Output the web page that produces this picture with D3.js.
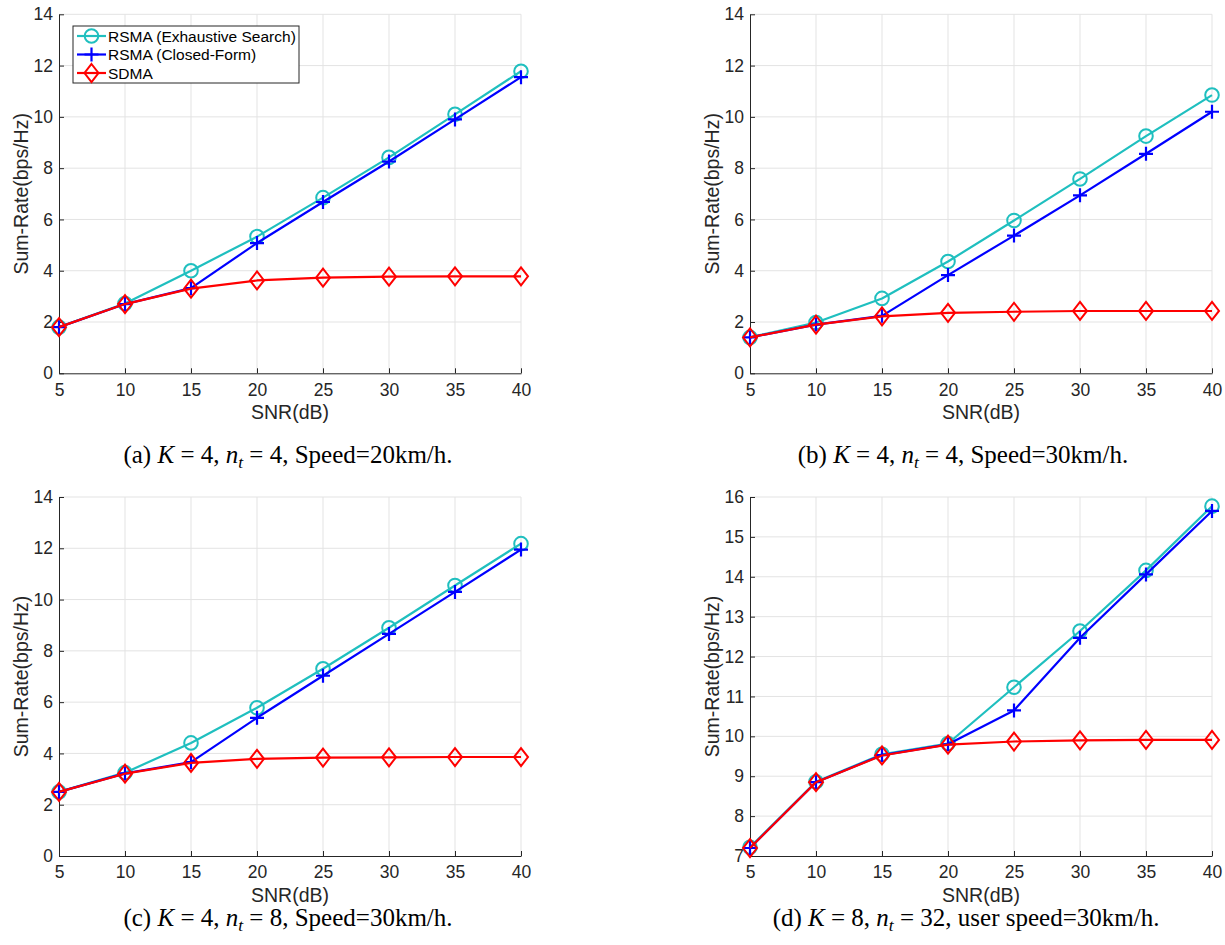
<!DOCTYPE html>
<html><head><meta charset="utf-8">
<script src="https://cdn.jsdelivr.net/npm/d3@7"></script>
<style>
html,body{margin:0;padding:0;background:#fff;}
svg{display:block;}
</style></head>
<body><svg id="chart" width="1225" height="945"></svg>
<script>
// ---- data ----
const snr = [5, 10, 15, 20, 25, 30, 35, 40];
const seriesNames = ["RSMA (Exhaustive Search)", "RSMA (Closed-Form)", "SDMA"];

const a_es   = [1.80, 2.72, 4.00, 5.33, 6.85, 8.42, 10.10, 11.78];
const a_cf   = [1.80, 2.70, 3.32, 5.08, 6.68, 8.26, 9.90, 11.55];
const a_sdma = [1.80, 2.70, 3.30, 3.62, 3.73, 3.77, 3.78, 3.78];

const b_es   = [1.40, 1.98, 2.92, 4.36, 5.96, 7.58, 9.25, 10.85];
const b_cf   = [1.40, 1.90, 2.24, 3.83, 5.37, 6.94, 8.56, 10.20];
const b_sdma = [1.40, 1.90, 2.22, 2.36, 2.40, 2.43, 2.43, 2.43];

const c_es   = [2.50, 3.25, 4.41, 5.78, 7.30, 8.90, 10.55, 12.18];
const c_cf   = [2.50, 3.22, 3.66, 5.39, 7.03, 8.66, 10.30, 11.95];
const c_sdma = [2.50, 3.21, 3.63, 3.79, 3.84, 3.85, 3.86, 3.86];

const d_es   = [7.22, 8.86, 9.55, 9.82, 11.23, 12.64, 14.16, 15.77];
const d_cf   = [7.20, 8.85, 9.53, 9.80, 10.65, 12.47, 14.06, 15.65];
const d_sdma = [7.20, 8.85, 9.52, 9.79, 9.87, 9.90, 9.91, 9.91];

const xTicks = [5, 10, 15, 20, 25, 30, 35, 40];
const yTicksA = [0, 2, 4, 6, 8, 10, 12, 14];
const yTicksD = [7, 8, 9, 10, 11, 12, 13, 14, 15, 16];

const captions = [
  {tag:"(a)", K:"4", n:"4", rest:", Speed=20km/h."},
  {tag:"(b)", K:"4", n:"4", rest:", Speed=30km/h."},
  {tag:"(c)", K:"4", n:"8", rest:", Speed=30km/h."},
  {tag:"(d)", K:"8", n:"32", rest:", user speed=30km/h."}
];

// ---- layout ----
const colors = ["#1fbfbf", "#0000ff", "#ff0000"];
const panels = [
  {left:59,  right:521,  top:14.3, bottom:373.3, yDom:[0,14], yTicks:yTicksA, data:[a_es,a_cf,a_sdma], cap:captions[0], capX:288, capY:463, legend:true},
  {left:750, right:1212, top:14.3, bottom:373.3, yDom:[0,14], yTicks:yTicksA, data:[b_es,b_cf,b_sdma], cap:captions[1], capX:963, capY:463},
  {left:59,  right:521,  top:497,  bottom:856,   yDom:[0,14], yTicks:yTicksA, data:[c_es,c_cf,c_sdma], cap:captions[2], capX:288, capY:926},
  {left:750, right:1212, top:497,  bottom:856,   yDom:[7,16], yTicks:yTicksD, data:[d_es,d_cf,d_sdma], cap:captions[3], capX:966, capY:926}
];

const svg = d3.select("#chart");
const axisColor = "#262626";
const sans = "'Liberation Sans', Arial, Helvetica, sans-serif";
const serif = "'Liberation Serif', 'Times New Roman', serif";
const tickFont = 17.5, labelFont = 19.5, legendFont = 15.5, capFont = 25;

function drawMarker(g, type, x, y, color) {
  if (type === 0) {
    g.append("circle").attr("cx", x).attr("cy", y).attr("r", 6.8)
      .attr("fill", "none").attr("stroke", color).attr("stroke-width", 2);
  } else if (type === 1) {
    const s = 7;
    g.append("path").attr("d", `M${x-s},${y}H${x+s}M${x},${y-s}V${y+s}`)
      .attr("stroke", color).attr("stroke-width", 2.2).attr("fill", "none");
  } else {
    const w = 7, h = 9;
    g.append("path").attr("d", `M${x},${y-h}L${x+w},${y}L${x},${y+h}L${x-w},${y}Z`)
      .attr("fill", "none").attr("stroke", color).attr("stroke-width", 2);
  }
}

panels.forEach(p => {
  const x = d3.scaleLinear().domain([5, 40]).range([p.left, p.right]);
  const y = d3.scaleLinear().domain(p.yDom).range([p.bottom, p.top]);
  const g = svg.append("g");

  // grid
  g.append("g").selectAll("line").data(xTicks.slice(1)).join("line")
    .attr("x1", d => x(d)).attr("x2", d => x(d))
    .attr("y1", p.top).attr("y2", p.bottom)
    .attr("stroke", "#e3e3e3").attr("stroke-width", 1);
  g.append("g").selectAll("line").data(p.yTicks.slice(1)).join("line")
    .attr("x1", p.left).attr("x2", p.right)
    .attr("y1", d => y(d)).attr("y2", d => y(d))
    .attr("stroke", "#e3e3e3").attr("stroke-width", 1);

  // axes
  const xAxis = d3.axisBottom(x).tickValues(xTicks).tickSizeInner(-5).tickSizeOuter(0).tickPadding(10);
  const yAxis = d3.axisLeft(y).tickValues(p.yTicks).tickSizeInner(-5).tickSizeOuter(0).tickPadding(6);
  const gx = g.append("g").attr("transform", `translate(0,${p.bottom})`).call(xAxis);
  const gy = g.append("g").attr("transform", `translate(${p.left},0)`).call(yAxis);
  [gx, gy].forEach(a => {
    a.select(".domain").attr("stroke", axisColor).attr("stroke-width", 1);
    a.selectAll(".tick line").attr("stroke", axisColor);
    a.selectAll(".tick text").attr("fill", axisColor).attr("font-size", tickFont).attr("font-family", sans);
  });

  // axis labels
  g.append("text").attr("x", (p.left + p.right) / 2).attr("y", p.bottom + 46)
    .attr("text-anchor", "middle").attr("font-family", sans).attr("font-size", labelFont)
    .attr("fill", axisColor).text("SNR(dB)");
  g.append("text").attr("transform", `translate(${p.left - 31},${(p.top + p.bottom) / 2}) rotate(-90)`)
    .attr("text-anchor", "middle").attr("font-family", sans).attr("font-size", labelFont)
    .attr("fill", axisColor).text("Sum-Rate(bps/Hz)");

  // series
  const line = d3.line().x((d, i) => x(snr[i])).y(d => y(d));
  p.data.forEach((vals, si) => {
    const sg = g.append("g");
    sg.append("path").datum(vals).attr("d", line).attr("fill", "none")
      .attr("stroke", colors[si]).attr("stroke-width", 2.2).attr("stroke-linejoin", "round");
    vals.forEach((v, i) => drawMarker(sg, si, x(snr[i]), y(v), colors[si]));
  });

  // caption (LaTeX-like spacing around "=")
  const c = p.cap;
  const sp = capFont * 0.25;
  const t = g.append("text").attr("x", p.capX).attr("y", p.capY)
    .attr("text-anchor", "middle").attr("font-family", serif).attr("font-size", capFont).attr("fill", "#000");
  t.append("tspan").text(c.tag + " ");
  t.append("tspan").attr("font-style", "italic").text("K");
  t.append("tspan").attr("dx", sp).text("=");
  t.append("tspan").attr("dx", sp).text(c.K + ", ");
  t.append("tspan").attr("font-style", "italic").text("n");
  t.append("tspan").attr("font-style", "italic").attr("font-size", capFont * 0.7).attr("dy", 4.5).text("t");
  t.append("tspan").attr("dy", -4.5).attr("dx", sp).text("=");
  t.append("tspan").attr("dx", sp).text(c.n + c.rest);

  // legend
  if (p.legend) {
    const lx = 73, ly = 26, lw = 226, lh = 57;
    const lg = g.append("g");
    lg.append("rect").attr("x", lx).attr("y", ly).attr("width", lw).attr("height", lh)
      .attr("fill", "#fff").attr("stroke", axisColor).attr("stroke-width", 1);
    seriesNames.forEach((name, si) => {
      const yy = ly + 10 + si * 18.5;
      lg.append("line").attr("x1", lx + 4).attr("x2", lx + 33).attr("y1", yy).attr("y2", yy)
        .attr("stroke", colors[si]).attr("stroke-width", 2.2);
      drawMarker(lg, si, lx + 18.5, yy, colors[si]);
      lg.append("text").attr("x", lx + 35).attr("y", yy + 5.5).attr("font-family", sans)
        .attr("font-size", legendFont).attr("fill", "#000").text(name);
    });
  }
});
</script></body></html>
